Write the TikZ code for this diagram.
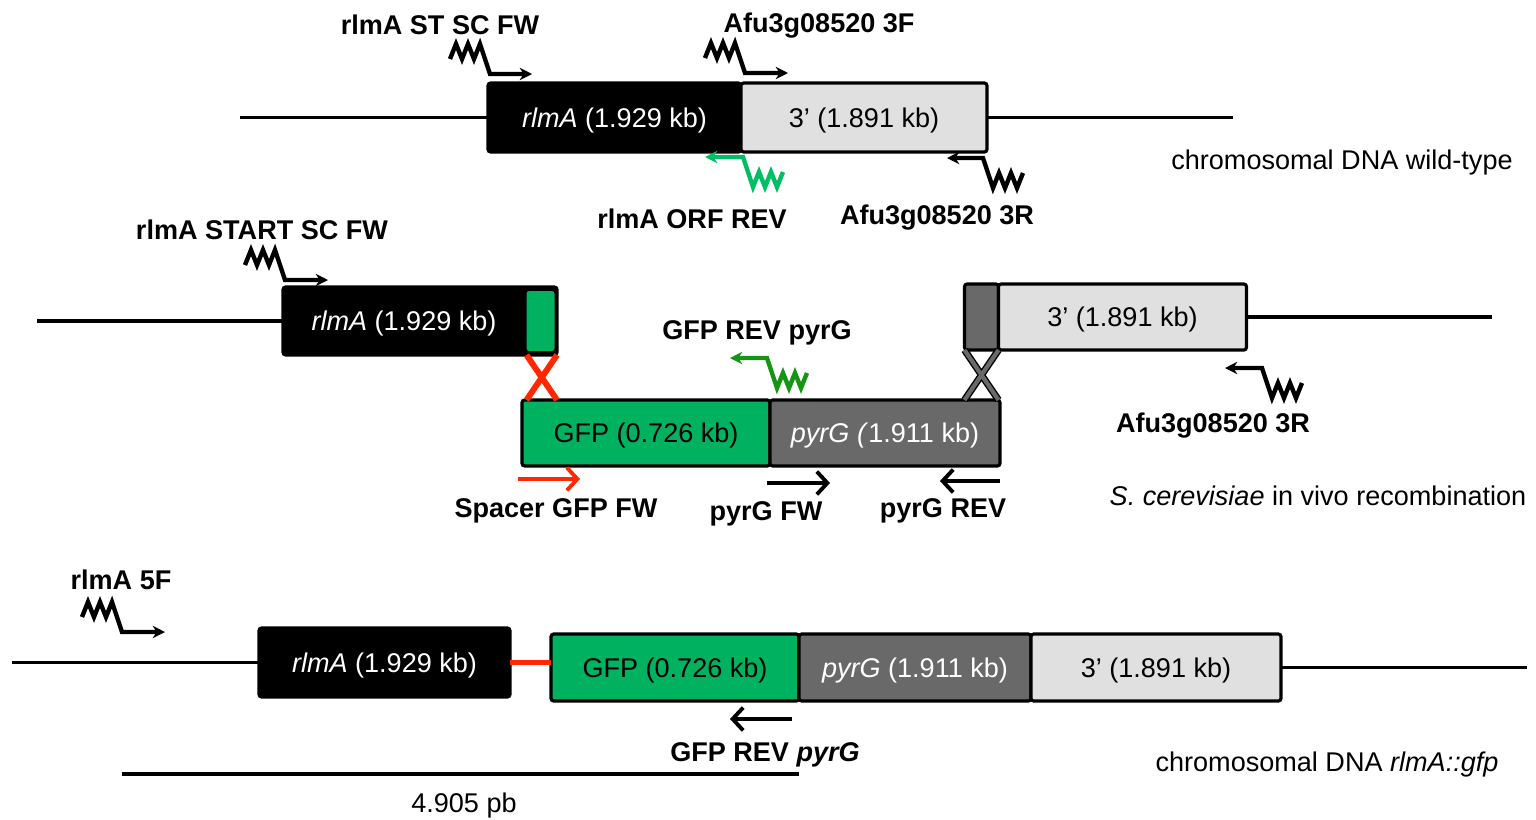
\documentclass[tikz,border=0pt]{standalone}
\usepackage{fontspec}
\setmainfont{Liberation Sans}
\usetikzlibrary{arrows.meta}
\definecolor{gfpgreen}{RGB}{0,178,96}
\definecolor{orfgreen}{RGB}{0,190,100}
\definecolor{revgreen}{RGB}{20,150,20}
\definecolor{spacerred}{RGB}{255,40,0}
\definecolor{pyrgray}{RGB}{105,105,105}
\definecolor{ltgray}{RGB}{224,224,224}
\tikzset{box/.style 2 args={minimum width=#1*0.02cm, minimum height=#2*0.02cm, inner sep=0, outer sep=0,
    text height=11pt, text depth=0pt, line width=1.8pt, rounded corners=1.5pt}}
\tikzset{blkbox/.style={fill=black, draw=black, text=white}}
\tikzset{gfpbox/.style={fill=gfpgreen, draw=black}}
\tikzset{pyrbox/.style={fill=pyrgray, draw=black, text=white}}
\tikzset{ltbox/.style={fill=ltgray, draw=black}}
\tikzset{lbl/.style={inner sep=0, text height=11pt, text depth=0pt, font=\bfseries}}
\tikzset{txt/.style={inner sep=0, text height=11pt, text depth=0pt}}
\tikzset{dna/.style={line width=2.1pt}}
\tikzset{straight/.style={line width=2.2pt, -{Straight Barb[length=6pt, width=13pt, line width=2.2pt]}}}
\tikzset{primer/.pic={
    \draw[line width=2.5pt, line join=miter, -{Stealth[length=7pt, width=7pt]}]
      (-40,-15) -- (-34,-30) -- (-28,-15) -- (-22,-30) -- (-16,-15) -- (-10,-30) -- (0,0) -- (#1,0);
}}

\begin{document}
\fontsize{15.4}{18}\selectfont
\begin{tikzpicture}[x=0.02cm, y=-0.02cm]
  \useasboundingbox (0,0) rectangle (1536,819);

  % chromosomal DNA wild-type
  \node[blkbox, box={253}{69}] (wtrlma) at (614.5,117.5) {\textit{rlmA} (1.929 kb)};
  \node[ltbox, box={246}{69}, anchor=west] (wtthree) at (wtrlma.east) {3’ (1.891 kb)};
  \coordinate (wtl) at (240,117.5);
  \coordinate (wtr) at (1233,117.5);
  \draw[dna] (wtl) -- (wtrlma.west);
  \draw[dna] (wtthree.east) -- (wtr);
  \pic at (490,74) {primer=42};
  \pic at (745,73) {primer=43};
  \pic[rotate=180, orfgreen] at (743,157) {primer=38};
  \pic[rotate=180] at (983,158) {primer=36};
  \node[lbl] (stsc) at (440,25) {rlmA ST SC FW};
  \node[lbl] (threef) at (819,23) {Afu3g08520 3F};
  \node[lbl] (orfrev) at (692,219) {rlmA ORF REV};
  \node[lbl] (threer) at (937,215) {Afu3g08520 3R};
  \node[txt] (wtname) at (1342,160) {chromosomal DNA wild-type};

  % S. cerevisiae in vivo recombination
  \node[blkbox, box={274}{68}] (mrlma) at (420,321) {};
  \node[gfpbox, draw=none, rounded corners=0pt, box={28}{60}] (mspacer) at (540.5,321) {};
  \node[txt, text=white] (mrlmatxt) at (404,321) {\textit{rlmA} (1.929 kb)};
  \node[gfpbox, box={248}{66}] (mgfp) at (646,433) {GFP (0.726 kb)};
  \node[pyrbox, box={230}{66}, anchor=west] (mpyrg) at (mgfp.east) {\textit{pyrG (}1.911 kb)};
  \node[pyrbox, box={34}{66}] (mdark) at (981.5,317) {};
  \node[ltbox, box={248}{66}, anchor=west] (mthree) at (mdark.east) {3’ (1.891 kb)};
  \coordinate (ml) at (37,321);
  \coordinate (mr) at (1492,317);
  \draw[dna] (ml) -- (mrlma.west);
  \draw[dna] (mthree.east) -- (mr);
  \draw[spacerred, line width=3.4pt] (mspacer.west |- mrlma.south) -- (mrlma.south east |- mgfp.north)
    (mrlma.south east) -- (mspacer.west |- mgfp.north);
  \draw[black, double=pyrgray, double distance=2.4pt, line width=0.8pt]
    (mdark.south west) -- (mdark.south east |- mpyrg.north)
    (mdark.south east) -- (mdark.south west |- mpyrg.north);
  \pic at (285,280) {primer=43};
  \pic[rotate=180, revgreen] at (767,358) {primer=37};
  \pic[rotate=180] at (1262,368) {primer=37};
  \coordinate (sp1) at (518,479);
  \coordinate (sp2) at (580,479);
  \coordinate (pf1) at (767,483);
  \coordinate (pf2) at (830,483);
  \coordinate (pr1) at (1000,481);
  \coordinate (pr2) at (940,481);
  \draw[straight, spacerred] (sp1) -- (sp2);
  \draw[straight] (pf1) -- (pf2);
  \draw[straight] (pr1) -- (pr2);
  \node[lbl] (startsc) at (262,230) {rlmA START SC FW};
  \node[lbl] (gfprev) at (757,330) {GFP REV pyrG};
  \node[lbl] (mthreer) at (1213,423) {Afu3g08520 3R};
  \node[lbl] (spacer) at (556,508) {Spacer GFP FW};
  \node[lbl] (pyrgfw) at (766,511) {pyrG FW};
  \node[lbl] (pyrgrev) at (943,508) {pyrG REV};
  \node[txt] (recomb) at (1318,496) {\textit{S. cerevisiae} in vivo recombination};

  % chromosomal DNA rlmA::gfp
  \node[blkbox, box={251}{69}] (frlma) at (384.5,662.5) {\textit{rlmA} (1.929 kb)};
  \node[gfpbox, box={248}{67}] (fgfp) at (675,667.5) {GFP (0.726 kb)};
  \node[pyrbox, box={232}{67}, anchor=west] (fpyrg) at (fgfp.east) {\textit{pyrG} (1.911 kb)};
  \node[ltbox, box={250}{67}, anchor=west] (fthree) at (fpyrg.east) {3’ (1.891 kb)};
  \coordinate (fl) at (12,662.5);
  \coordinate (fr) at (1527,667.5);
  \draw[dna] (fl) -- (frlma.west);
  \draw[spacerred, line width=2.4pt] (frlma.east) -- (frlma.east -| fgfp.west);
  \draw[dna] (fthree.east) -- (fr);
  \pic at (122,632) {primer=43};
  \coordinate (gr1) at (792,719);
  \coordinate (gr2) at (730,719);
  \draw[straight] (gr1) -- (gr2);
  \coordinate (sc1) at (122,774);
  \coordinate (sc2) at (799,774);
  \draw[dna] (sc1) -- (sc2);
  \node[lbl] (fivef) at (121,580) {rlmA 5F};
  \node[lbl] (fgfprev) at (765,752) {GFP REV \textit{pyrG}};
  \node[txt] (scale) at (464,803) {4.905 pb};
  \node[txt] (fname) at (1327,762) {chromosomal DNA \textit{rlmA::gfp}};
\end{tikzpicture}
\end{document}
